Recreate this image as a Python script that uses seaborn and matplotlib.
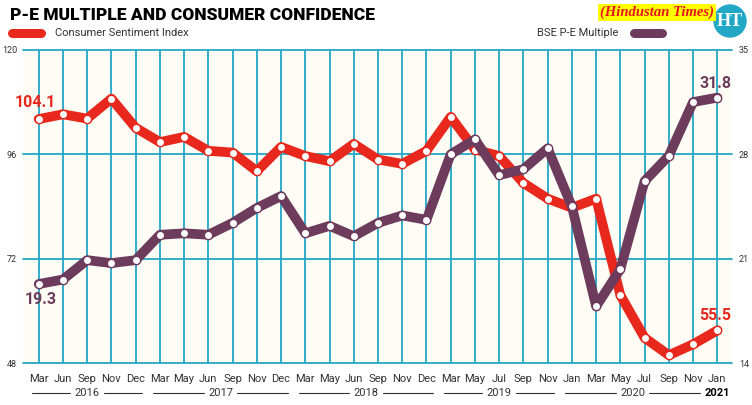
import numpy as np
import pandas as pd
import seaborn as sns
import matplotlib.pyplot as plt
from matplotlib.lines import Line2D
from matplotlib.patches import Ellipse

# data
months = ["Mar", "Jun", "Sep", "Nov", "Dec",
          "Mar", "May", "Jun", "Sep", "Nov", "Dec",
          "Mar", "May", "Jun", "Sep", "Nov", "Dec",
          "Mar", "May", "Jul", "Sep", "Nov",
          "Jan", "Mar", "May", "Jul", "Sep", "Nov",
          "Jan"]
years = ["2016"] * 5 + ["2017"] * 6 + ["2018"] * 6 + ["2019"] * 5 + ["2020"] * 6 + ["2021"]
sentiment = [104.1, 105.2, 104.2, 108.8, 102.1, 98.8, 100.0, 96.8, 96.4, 92.1,
             97.7, 95.6, 94.4, 98.4, 94.8, 93.8, 96.8, 104.6, 97.1, 95.6,
             89.4, 85.8, 83.7, 85.8, 63.6, 53.8, 49.8, 52.3, 55.5]
pe_multiple = [19.3, 19.6, 20.9, 20.7, 20.9, 22.6, 22.7, 22.6, 23.4, 24.4,
               25.2, 22.7, 23.2, 22.5, 23.4, 23.9, 23.6, 28.0, 29.0, 26.6,
               27.0, 28.4, 24.5, 17.8, 20.3, 26.2, 27.9, 31.5, 31.8]
left_ticks = [48, 72, 96, 120]
right_ticks = [14, 21, 28, 35]

RED = "#e8281c"
PURPLE = "#6d3b5c"
TEAL = "#22a7c6"
TXT = "#333333"

sns.set_style("white")
NARROW = ["Liberation Sans Narrow", "Roboto", "DejaVu Sans"]
plt.rcParams["font.family"] = NARROW

df = pd.DataFrame({"pos": np.arange(len(months)), "month": months, "year": years,
                   "sentiment": sentiment, "pe": pe_multiple})

fig = plt.figure(figsize=(7.52, 4.05), dpi=100)
ax = fig.add_axes([0.0302, 0.1037, 0.943, 0.773])
ax.set_facecolor("#fdfdf6")
ax2 = ax.twinx()

line_kw = dict(lw=7, marker="o", markersize=6, markerfacecolor="white",
               markeredgewidth=1.0, solid_joinstyle="round", solid_capstyle="round")
sns.lineplot(data=df, x="pos", y="sentiment", ax=ax, color=RED,
             markeredgecolor=RED, sort=False, **line_kw)
sns.lineplot(data=df, x="pos", y="pe", ax=ax2, color=PURPLE,
             markeredgecolor=PURPLE, sort=False, **line_kw)

ax.set_xlim(-0.66, len(months) - 1 + 0.6)
ax.set_ylim(left_ticks[0], left_ticks[-1])
ax2.set_ylim(right_ticks[0], right_ticks[-1])

for a in (ax, ax2):
    a.set_xlabel("")
    a.set_ylabel("")
    for s in a.spines.values():
        s.set_visible(False)

for v in left_ticks:
    ax.axhline(v, color=TEAL, lw=1.3, zorder=1.5, clip_on=False)

ax.set_xticks(df["pos"])
ax.set_xticklabels(months, fontsize=8, color=TXT)
ax.grid(axis="x", color=TEAL, lw=1.3)
ax.tick_params(axis="x", length=6, width=1.3, color=TEAL, pad=2)

ax.set_yticks(left_ticks)
ax.set_yticklabels([str(v) for v in left_ticks], fontsize=6.5, color=TXT)
ax.tick_params(axis="y", length=0, pad=4)
ax2.set_yticks(right_ticks)
ax2.set_yticklabels([str(v) for v in right_ticks], fontsize=6.5, color=TXT)
ax2.tick_params(axis="y", length=0, pad=5)

# year groups under the month labels
trans = ax.get_xaxis_transform()
ybar = -0.095
for yr, grp in df.groupby("year", sort=False):
    lo, hi = grp["pos"].min(), grp["pos"].max()
    mid = (lo + hi) / 2
    bold = yr == "2021"
    ax.text(mid, ybar, yr, transform=trans, ha="center", va="center",
            fontsize=8, color="black" if bold else TXT,
            fontweight="bold" if bold else "normal")
    if not bold:
        for a, b in ((lo - 0.28, mid - 0.7), (mid + 0.7, hi + 0.28)):
            ax.add_line(Line2D([a, b], [ybar, ybar], transform=trans, color=TXT,
                               lw=0.8, clip_on=False))

# end-point labels
lab = dict(textcoords="offset pixels", ha="center", va="center",
           fontsize=11.5, fontweight="bold")
ax.annotate(f"{sentiment[0]}", (0, sentiment[0]), xytext=(-3, 17), color=RED, **lab)
ax.annotate(f"{sentiment[-1]}", (len(months) - 1, sentiment[-1]), xytext=(-2, 15), color=RED, **lab)
ax2.annotate(f"{pe_multiple[0]}", (0, pe_multiple[0]), xytext=(2, -16), color=PURPLE, **lab)
ax2.annotate(f"{pe_multiple[-1]}", (len(months) - 1, pe_multiple[-1]), xytext=(-2, 14), color=PURPLE, **lab)

# title and legend
W, H = 752, 405
fig.text(10 / W, 1 - 15 / H, "P-E MULTIPLE AND CONSUMER CONFIDENCE", ha="left", va="center",
         fontsize=12.5, fontweight="heavy", color="black")
fig.add_artist(Line2D([11.5 / W, 40.5 / W], [1 - 32.5 / H] * 2, color=RED, lw=6.5,
                      solid_capstyle="round", transform=fig.transFigure))
fig.text(55 / W, 1 - 33 / H, "Consumer Sentiment Index", ha="left", va="center",
         fontsize=8, color=TXT)
fig.add_artist(Line2D([633.5 / W, 661.5 / W], [1 - 33 / H] * 2, color=PURPLE, lw=6.5,
                      solid_capstyle="round", transform=fig.transFigure))
fig.text(618 / W, 1 - 33 / H, "BSE P-E Multiple", ha="right", va="center",
         fontsize=8, color=TXT)

# source tag and logo
fig.text(657 / W, 1 - 12.5 / H, "(Hindustan Times)", ha="center", va="center",
         fontsize=10.5, fontweight="bold", fontstyle="italic", color="#e8141c",
         family=["Liberation Serif", "DejaVu Serif"],
         bbox=dict(facecolor="#ffff00", edgecolor="none", pad=1.5))
fig.add_artist(Ellipse((730 / W, 1 - 21 / H), 32 / W, 32 / H, color=TEAL,
                       transform=fig.transFigure))
fig.text(730 / W, 1 - 21 / H, "HT", ha="center", va="center", fontsize=13,
         fontweight="bold", color="white", family=["Liberation Serif", "DejaVu Serif"])

fig.savefig("out.png", dpi=100, facecolor="white")
